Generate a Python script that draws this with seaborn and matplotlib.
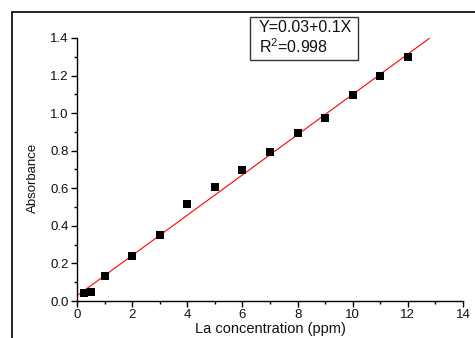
import matplotlib
matplotlib.use("Agg")
import matplotlib.pyplot as plt
import seaborn as sns
import numpy as np
import pandas as pd
from matplotlib.ticker import MultipleLocator
from matplotlib.lines import Line2D
from matplotlib.patches import Rectangle

conc = [0.25, 0.5, 1, 2, 3, 4, 5, 6, 7, 8, 9, 10, 11, 12]
absorbance = [0.041, 0.048, 0.131, 0.241, 0.353, 0.516, 0.607, 0.697, 0.791, 0.896, 0.976, 1.098, 1.197, 1.297]
fit_x = [0.0, 12.78]
fit_y = [0.028, 1.398]
eq_line1 = "Y=0.03+0.1X"
eq_line2 = "R$^2$=0.998"

sns.set_theme(style="white")
plt.rcParams['font.family'] = ['Liberation Sans', 'DejaVu Sans']
plt.rcParams['mathtext.fontset'] = 'custom'
plt.rcParams['mathtext.rm'] = 'Liberation Sans'

W, H = 475, 338
fig = plt.figure(figsize=(4.75, 3.38), dpi=100)
ax = fig.add_axes([77/W, 1-301/H, 386/W, 263/H])

df = pd.DataFrame({"x": conc, "y": absorbance})
dfit = pd.DataFrame({"x": fit_x, "y": fit_y})
sns.lineplot(data=dfit, x="x", y="y", ax=ax, color="red", linewidth=0.8, zorder=2)
sns.scatterplot(data=df, x="x", y="y", ax=ax, marker="s", s=32, color="black",
                edgecolor="black", linewidth=0, zorder=3, clip_on=False)

ax.set_xlim(0, 14)
ax.set_ylim(0, 1.4)
ax.xaxis.set_major_locator(MultipleLocator(2))
ax.xaxis.set_minor_locator(MultipleLocator(1))
ax.yaxis.set_major_locator(MultipleLocator(0.2))
ax.yaxis.set_minor_locator(MultipleLocator(0.1))
ax.yaxis.set_major_formatter(matplotlib.ticker.FormatStrFormatter('%.1f'))
ax.tick_params(which='major', direction='out', length=4, width=1, color='black',
               labelsize=9.5, bottom=True, left=True, labelcolor='#111111')
ax.tick_params(axis='x', which='major', pad=2)
ax.tick_params(axis='y', which='major', pad=2)
ax.tick_params(which='minor', direction='out', length=2.5, width=1, color='black',
               bottom=True, left=True)
for s in ['top', 'right']:
    ax.spines[s].set_visible(False)
for s in ['left', 'bottom']:
    ax.spines[s].set_color('black')
    ax.spines[s].set_linewidth(1)

ax.set_xlabel("La concentration (ppm)", fontsize=10.5, color='#111111')
ax.xaxis.set_label_coords(0.5, (301-322)/263)
ax.set_ylabel("Absorbance", fontsize=9.5, color='#111111')
ax.yaxis.set_label_coords((39-77)/386, (301-178)/263)

# equation box
fig.add_artist(Rectangle((250/W, 1-60/H), 108/W, 43/H, transform=fig.transFigure,
                         facecolor='white', edgecolor='#333333', linewidth=1))
fig.text(259/W, 1-28/H, eq_line1, fontsize=11.5, color='#111111', va='center', ha='left')
fig.text(259/W, 1-47/H, eq_line2, fontsize=11.5, color='#111111', va='center', ha='left')

# outer frame (top and left lines)
fig.add_artist(Line2D([12/W, 1.0], [1-12/H, 1-12/H], color='black', linewidth=1.2,
                      transform=fig.transFigure))
fig.add_artist(Line2D([12/W, 12/W], [0.0, 1-12/H], color='black', linewidth=1.2,
                      transform=fig.transFigure))

fig.savefig("out.png", dpi=100)
